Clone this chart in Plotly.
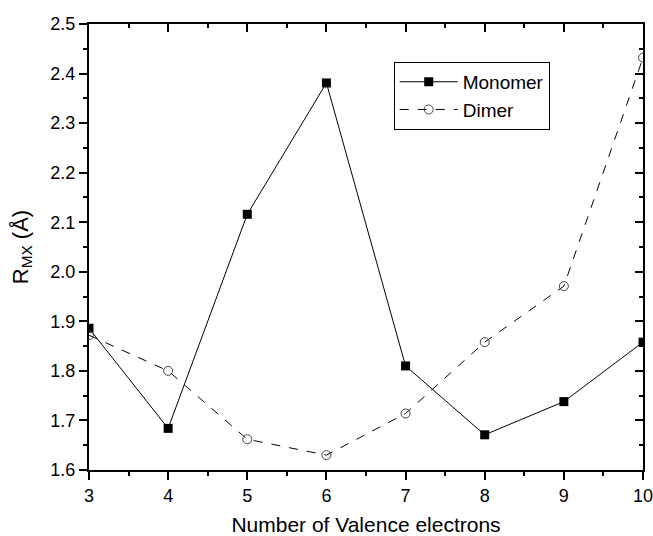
import plotly.graph_objects as go

electrons = [3, 4, 5, 6, 7, 8, 9, 10]
monomer = [1.886, 1.684, 2.116, 2.381, 1.810, 1.671, 1.738, 1.858]
dimer = [1.872, 1.800, 1.662, 1.630, 1.714, 1.858, 1.971, 2.432]

FONT = "Arial, Liberation Sans, sans-serif"

fig = go.Figure()

fig.add_trace(go.Scatter(
    x=electrons, y=monomer, name="Monomer", mode="lines+markers",
    line=dict(color="black", width=1),
    marker=dict(symbol="square", size=9, color="black"),
))
fig.add_trace(go.Scatter(
    x=electrons, y=dimer, name="Dimer", mode="lines+markers",
    line=dict(color="black", width=1, dash="dash"),
    marker=dict(symbol="circle-open", size=9, color="#444", line=dict(width=1)),
))
# empty trace so the mirrored top/right axes get drawn
fig.add_trace(go.Scatter(x=[None], y=[None], xaxis="x2", yaxis="y2",
                         showlegend=False, hoverinfo="skip"))

axis_common = dict(
    showgrid=False, zeroline=False, showline=True, linecolor="black", linewidth=2,
    ticks="outside", ticklen=8, tickwidth=1.5, tickcolor="black",
    tickfont=dict(family=FONT, size=18, color="black"),
    ticklabeloverflow="allow", automargin=False,
)

fig.update_layout(
    width=653, height=536,
    margin=dict(l=89, r=10, t=24, b=66),
    plot_bgcolor="white", paper_bgcolor="white",
    font=dict(family=FONT, color="black"),
    xaxis=dict(
        range=[3, 10], dtick=1, **axis_common,
        minor=dict(ticks="outside", ticklen=4, dtick=0.5, tickcolor="black"),
        title=dict(text="Number of Valence electrons", font=dict(size=21), standoff=18),
    ),
    yaxis=dict(
        range=[1.6, 2.5], dtick=0.1, tickformat=".1f", **axis_common,
        minor=dict(ticks="outside", ticklen=4, dtick=0.05, tickcolor="black"),
        title=dict(text="R<sub>MX</sub> (Å)", font=dict(size=22), standoff=16),
    ),
    xaxis2=dict(
        range=[3, 10], dtick=1, overlaying="x", side="top", anchor="y",
        showgrid=False, zeroline=False, showline=True, linecolor="black", linewidth=2,
        ticks="inside", ticklen=8, tickwidth=1.5, tickcolor="black", showticklabels=False,
        minor=dict(ticks="inside", ticklen=4, dtick=0.5, tickcolor="black"),
    ),
    yaxis2=dict(
        range=[1.6, 2.5], dtick=0.1, overlaying="y", side="right", anchor="x",
        showgrid=False, zeroline=False, showline=True, linecolor="black", linewidth=2,
        ticks="inside", ticklen=8, tickwidth=1.5, tickcolor="black", showticklabels=False,
        minor=dict(ticks="inside", ticklen=4, dtick=0.05, tickcolor="black"),
    ),
    legend=dict(
        x=0.55, y=0.915, xanchor="left", yanchor="top",
        bordercolor="black", borderwidth=1, bgcolor="white",
        itemwidth=58,
        font=dict(family=FONT, size=19, color="black"),
    ),
)

fig.write_html("out.html", config={"displayModeBar": False},
               post_script="document.body.style.margin='0';")
